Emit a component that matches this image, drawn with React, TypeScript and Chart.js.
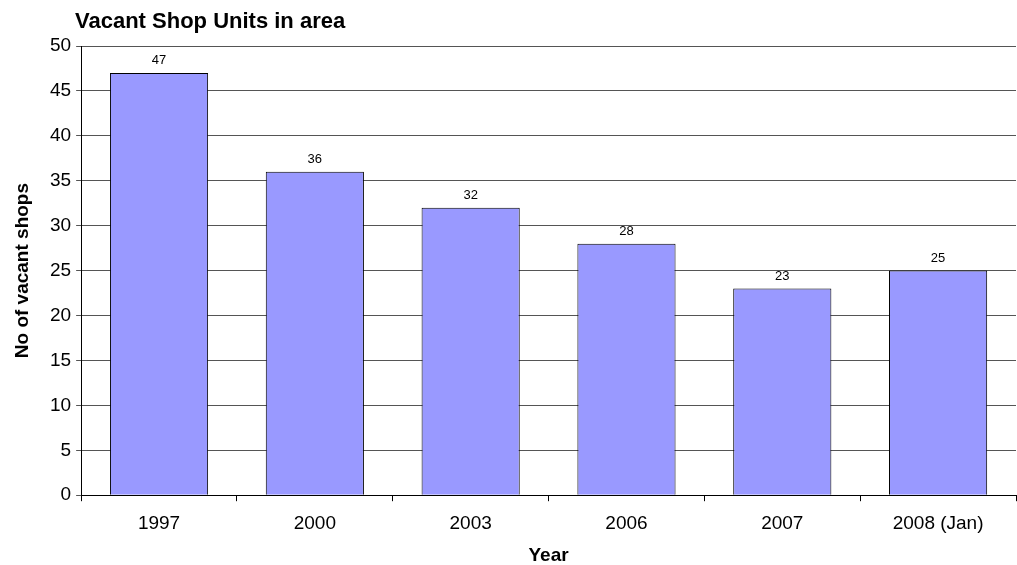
import React, { useEffect, useRef } from "react";
import { Chart, registerables } from "chart.js";

Chart.register(...registerables);

const chartTitle = "Vacant Shop Units in area";
const years = ["1997", "2000", "2003", "2006", "2007", "2008 (Jan)"];
const vacantShops = [47, 36, 32, 28, 23, 25];
const yAxisTitle = "No of vacant shops";
const xAxisTitle = "Year";

const FONT = "Arial, 'Liberation Sans', sans-serif";

// Chart heading, left-aligned above the plot
const titlePlugin = {
  id: "leftTitle",
  afterDraw(chart: any) {
    const ctx = chart.ctx;
    ctx.save();
    ctx.font = `bold 22px ${FONT}`;
    ctx.fillStyle = "#000";
    ctx.textAlign = "left";
    ctx.textBaseline = "alphabetic";
    ctx.fillText(chartTitle, 75, 28);
    ctx.restore();
  },
};

// Value written above each bar
const valueLabels = {
  id: "valueLabels",
  afterDatasetsDraw(chart: any) {
    const ctx = chart.ctx;
    const meta = chart.getDatasetMeta(0);
    ctx.save();
    ctx.font = `13px ${FONT}`;
    ctx.fillStyle = "#000";
    ctx.textAlign = "center";
    ctx.textBaseline = "alphabetic";
    meta.data.forEach((bar: any, i: number) => {
      ctx.fillText(String(vacantShops[i]), bar.x, bar.y - 9);
    });
    ctx.restore();
  },
};

export default function App() {
  const canvasRef = useRef<HTMLCanvasElement | null>(null);

  useEffect(() => {
    document.body.style.margin = "0";
    const chart = new Chart(canvasRef.current as HTMLCanvasElement, {
      type: "bar",
      data: {
        labels: years,
        datasets: [
          {
            data: vacantShops,
            backgroundColor: "#9999FF",
            borderColor: "#000000",
            borderWidth: 1,
            barPercentage: 0.63,
            categoryPercentage: 1,
          },
        ],
      },
      options: {
        animation: false,
        responsive: false,
        maintainAspectRatio: false,
        layout: { padding: { top: 46, right: 1, left: 13, bottom: 0 } },
        plugins: {
          legend: { display: false },
          title: { display: false },
          tooltip: { enabled: false },
        },
        scales: {
          x: {
            offset: true,
            grid: {
              offset: true,
              drawOnChartArea: false,
              color: "#000",
              tickLength: 6,
            },
            border: { color: "#000", width: 1 },
            ticks: { color: "#000", font: { family: FONT, size: 19 }, padding: 11 },
            title: {
              display: true,
              text: xAxisTitle,
              color: "#000",
              font: { family: FONT, size: 19, weight: "bold", lineHeight: 1 },
              padding: { top: 0, bottom: 0 },
            },
          },
          y: {
            min: 0,
            max: 50,
            ticks: {
              stepSize: 5,
              color: "#000",
              font: { family: FONT, size: 19 },
              padding: 5,
            },
            grid: { color: "#555", tickLength: 5 },
            border: { color: "#000", width: 1 },
            title: {
              display: true,
              text: yAxisTitle,
              color: "#000",
              font: { family: FONT, size: 19, weight: "bold", lineHeight: 1 },
              padding: { top: 0, bottom: 13 },
            },
          },
        },
      },
      plugins: [titlePlugin, valueLabels],
    });
    return () => chart.destroy();
  }, []);

  return (
    <div style={{ width: 1017, height: 565 }}>
      <canvas ref={canvasRef} width={1017} height={565} />
    </div>
  );
}
